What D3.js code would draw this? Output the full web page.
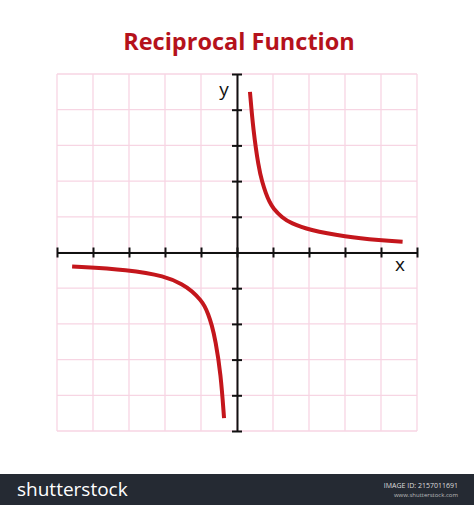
<!DOCTYPE html>
<html><head><meta charset="utf-8">
<script src="https://cdn.jsdelivr.net/npm/d3@7"></script>
<style>body{margin:0;background:#fff}</style>
</head><body>
<script>
// values (grid units)
var rightBranch = [[0.36,4.5],[0.45,3.44],[0.6,2.38],[0.7,1.97],[0.8,1.66],[0.9,1.42],[1,1.24],[1.25,0.98],[1.5,0.82],[2,0.63],[3,0.44],[4,0.34],[4.6,0.3]];
var leftBranch = [[-4.58,-0.39],[-3,-0.48],[-2,-0.66],[-1.5,-0.9],[-1.25,-1.08],[-1,-1.34],[-0.9,-1.5],[-0.8,-1.72],[-0.7,-2.03],[-0.6,-2.45],[-0.45,-3.4],[-0.36,-4.64]];
var ticks = [-5,-4,-3,-2,-1,0,1,2,3,4,5];

var svg = d3.select("body").append("svg").attr("width",474).attr("height",505);
var x = d3.scaleLinear().domain([-5,5]).range([57,417]);
var y = d3.scaleLinear().domain([-5,5]).range([431,74]);

svg.append("text").attr("x",239).attr("y",50).attr("text-anchor","middle")
	.style("font-family","Open Sans").style("font-weight","bold").style("font-size","23.5px")
	.style("fill","#b5121b").text("Reciprocal Function");

//grid
ticks.forEach(function(t){
	svg.append("line").attr("x1",x(t)).attr("x2",x(t)).attr("y1",y(5)).attr("y2",y(-5))
		.style("stroke","#f7d5e3").style("stroke-width",1.3);
	svg.append("line").attr("y1",y(t)).attr("y2",y(t)).attr("x1",x(-5)).attr("x2",x(5))
		.style("stroke","#f7d5e3").style("stroke-width",1.3);
});

//axes
svg.append("g").attr("transform","translate(0,"+y(0)+")")
	.call(d3.axisBottom(x).tickValues(ticks).tickSize(0).tickFormat(""))
	.call(function(g){g.selectAll(".tick").append("line").attr("y1",-5).attr("y2",5).style("stroke","#111").style("stroke-width",2);})
	.select(".domain").style("stroke","#111").style("stroke-width",2);
svg.append("g").attr("transform","translate("+x(0)+",0)")
	.call(d3.axisLeft(y).tickValues(ticks).tickSize(0).tickFormat(""))
	.call(function(g){g.selectAll(".tick").append("line").attr("x1",-5).attr("x2",5).style("stroke","#111").style("stroke-width",2);})
	.select(".domain").style("stroke","#111").style("stroke-width",2);

svg.append("text").attr("x",400).attr("y",271).attr("text-anchor","middle")
	.style("font-family","Open Sans").style("font-size","19px").style("fill","#111").text("x");
svg.append("text").attr("x",224).attr("y",96).attr("text-anchor","middle")
	.style("font-family","Open Sans").style("font-size","19px").style("fill","#111").text("y");

var line = d3.line().x(function(d){return x(d[0]);}).y(function(d){return y(d[1]);}).curve(d3.curveBasis);
[rightBranch,leftBranch].forEach(function(b){
	svg.append("path").datum(b).attr("d",line).style("fill","none")
		.style("stroke","#c4161c").style("stroke-width",4).style("stroke-linecap","butt");
});

//footer banner
svg.append("rect").attr("x",0).attr("y",474).attr("width",474).attr("height",31).style("fill","#252a33");
svg.append("text").attr("x",17).attr("y",496).style("font-family","Open Sans").style("font-size","19px")
	.style("fill","#fff").text("shutterstock");
svg.append("text").attr("x",458).attr("y",488).attr("text-anchor","end").style("font-family","Open Sans")
	.style("font-size","7px").style("fill","#ddd").text("IMAGE ID: 2157011691");
svg.append("text").attr("x",458).attr("y",497).attr("text-anchor","end").style("font-family","Open Sans")
	.style("font-size","6px").style("fill","#bbb").text("www.shutterstock.com");
</script>
</body></html>
